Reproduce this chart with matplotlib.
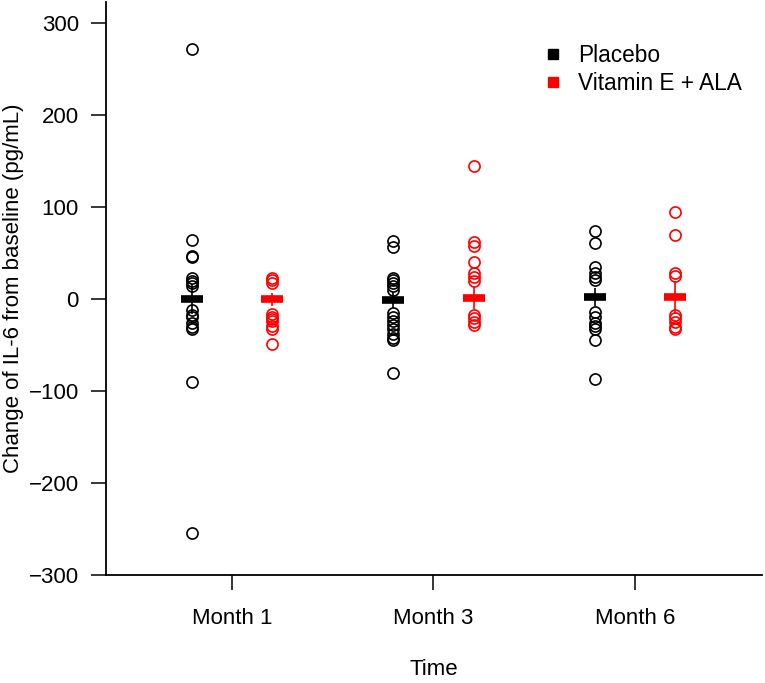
import numpy as np
import matplotlib
matplotlib.use("Agg")
import matplotlib.pyplot as plt
from matplotlib.lines import Line2D

plt.rcParams['font.family'] = ['Liberation Sans', 'DejaVu Sans']

months = ["Month 1", "Month 3", "Month 6"]

# individual changes
placebo_m1 = [272, 64, 47, 46, 23, 20, 17, 14, -12, -17, -20, -26, -30, -33, -90, -254]
placebo_m3 = [63, 57, 23, 21, 18, 14, 10, -15, -20, -24, -28, -32, -38, -42, -45, -80]
placebo_m6 = [74, 61, 35, 28, 24, 21, -14, -20, -26, -29, -33, -44, -87]
vit_m1 = [23, 21, 18, -16, -19, -22, -24, -29, -33, -49]
vit_m3 = [145, 62, 58, 40, 28, 24, 20, -17, -21, -25, -28]
vit_m6 = [95, 70, 28, 25, -17, -21, -25, -30, -33]

# group means and standard errors (estimated)
placebo_mean = [0, -1, 2]
placebo_se = [16, 9, 10]
vit_mean = [0, 1, 2]
vit_se = [7, 12, 18]

placebo = [placebo_m1, placebo_m3, placebo_m6]
vitamin = [vit_m1, vit_m3, vit_m6]

fs = 16

fig = plt.figure(figsize=(7.65, 6.83), dpi=100)
ax = fig.add_axes([106/765, 1-575/683, (762-106)/765, (575-2)/683])

x = np.arange(1, 4)
off = 0.2
bw = 0.055

for i in range(3):
    ax.plot([x[i]-off]*len(placebo[i]), placebo[i], 'o', mfc='none', mec='black', ms=8, mew=1.2)
    ax.plot([x[i]+off]*len(vitamin[i]), vitamin[i], 'o', mfc='none', mec='red', ms=8, mew=1.2)

ax.errorbar(x-off, placebo_mean, yerr=placebo_se, fmt='none', ecolor='black', elinewidth=1.2, capsize=0)
ax.errorbar(x+off, vit_mean, yerr=vit_se, fmt='none', ecolor='red', elinewidth=1.2, capsize=0)
ax.hlines(placebo_mean, x-off-bw, x-off+bw, colors='black', lw=5.5, capstyle='butt')
ax.hlines(vit_mean, x+off-bw, x+off+bw, colors='red', lw=5.5, capstyle='butt')

ax.set_xlim(0.375, 3.63)
ax.set_ylim(-300, 323)
ax.set_yticks(np.arange(-300, 301, 100))
ax.set_yticklabels([str(v).replace('-', '\u2212') for v in range(-300, 301, 100)])
ax.set_xticks(x)
ax.set_xticklabels(months)
ax.spines['top'].set_visible(False)
ax.spines['right'].set_visible(False)
ax.tick_params(axis='both', labelsize=fs, length=10.5, width=1.1, color='black')
ax.tick_params(axis='y', pad=9)
ax.tick_params(axis='x', pad=13)
for s in ['left', 'bottom']:
    ax.spines[s].set_linewidth(1.3)

ax.set_ylabel("Change of IL-6 from baseline (pg/mL)", fontsize=fs)
ax.yaxis.set_label_coords(-0.125, 0.5)
ax.set_xlabel("Time", fontsize=fs)
ax.xaxis.set_label_coords(0.5, -0.1466)

handles = [Line2D([], [], marker='s', ls='none', color='black', ms=6.5),
           Line2D([], [], marker='s', ls='none', color='red', ms=6.5)]
fig.legend(handles, ["Placebo", "Vitamin E + ALA"], loc='upper left',
           bbox_to_anchor=(542/765, 1-44/683), frameon=False, fontsize=16.3,
           borderpad=0, handlelength=1.0, handletextpad=0.6, labelspacing=0.2,
           borderaxespad=0)

fig.savefig("out.png", dpi=100)
